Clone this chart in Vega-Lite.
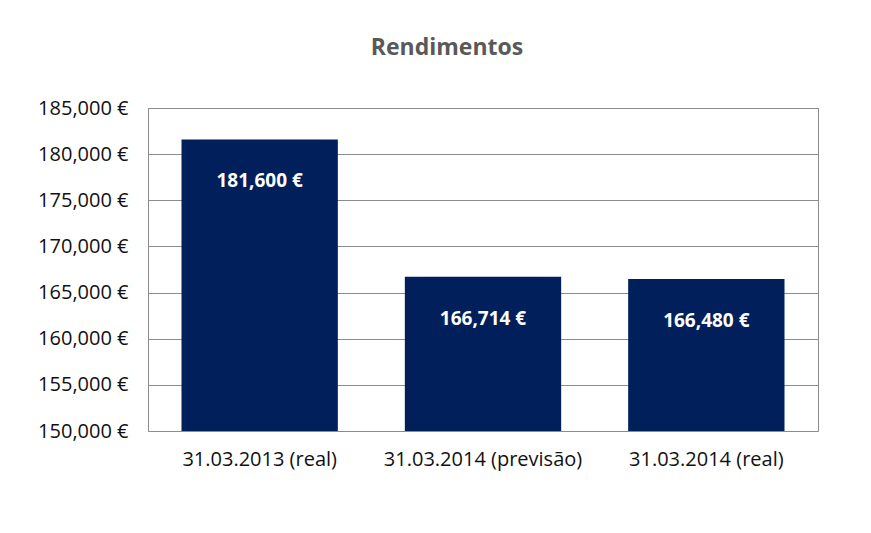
{
  "$schema": "https://vega.github.io/schema/vega-lite/v6.json",
  "width": 670,
  "height": 323,
  "autosize": {"type": "none"},
  "padding": {"left": 148, "top": 108, "right": 53, "bottom": 102},
  "background": "white",
  "title": {
    "text": "Rendimentos",
    "font": "Open Sans",
    "fontSize": 23,
    "fontWeight": "bold",
    "color": "#595959",
    "anchor": "middle",
    "dx": -36,
    "offset": 38
  },
  "data": {
    "values": [
      {"periodo": "31.03.2013 (real)", "valor": 181600},
      {"periodo": "31.03.2014 (previsão)", "valor": 166714},
      {"periodo": "31.03.2014 (real)", "valor": 166480}
    ]
  },
  "encoding": {
    "x": {
      "field": "periodo",
      "type": "nominal",
      "sort": null,
      "scale": {"paddingInner": 0.3, "paddingOuter": 0.15},
      "axis": {
        "title": null,
        "labelAngle": 0,
        "ticks": false,
        "domain": false,
        "labelFont": "Open Sans",
        "labelFontSize": 20,
        "labelColor": "#111",
        "labelPadding": 18,
        "labelLimit": 400
      }
    },
    "y": {
      "field": "valor",
      "type": "quantitative",
      "scale": {"domain": [150000, 185000], "zero": false, "nice": false},
      "axis": {
        "title": null,
        "values": [150000, 155000, 160000, 165000, 170000, 175000, 180000, 185000],
        "format": ",d",
        "labelExpr": "datum.label + ' €'",
        "ticks": false,
        "domain": false,
        "grid": true,
        "gridColor": "#8c8c8c",
        "gridWidth": 1,
        "labelFont": "Open Sans",
        "labelFontSize": 20,
        "labelColor": "#111",
        "labelPadding": 20
      }
    }
  },
  "layer": [
    {
      "mark": {"type": "bar", "color": "#000000", "opacity": 0.07, "width": {"band": 0.74}, "clip": true},
      "encoding": {"y": {"field": "valor", "type": "quantitative"}}
    },
    {
      "mark": {"type": "bar", "color": "#001F5B", "width": {"band": 1}, "clip": true}
    },
    {
      "mark": {
        "type": "text",
        "color": "white",
        "font": "Open Sans",
        "fontSize": 19,
        "fontWeight": "bold",
        "baseline": "middle",
        "dy": 42,
        "text": {"expr": "format(datum.valor, ',') + ' €'"}
      },
      "encoding": {
        "y": {"field": "valor", "type": "quantitative"}
      }
    }
  ],
  "config": {
    "view": {"stroke": "#8c8c8c", "strokeWidth": 1},
    "axis": {"gridOpacity": 1}
  }
}
